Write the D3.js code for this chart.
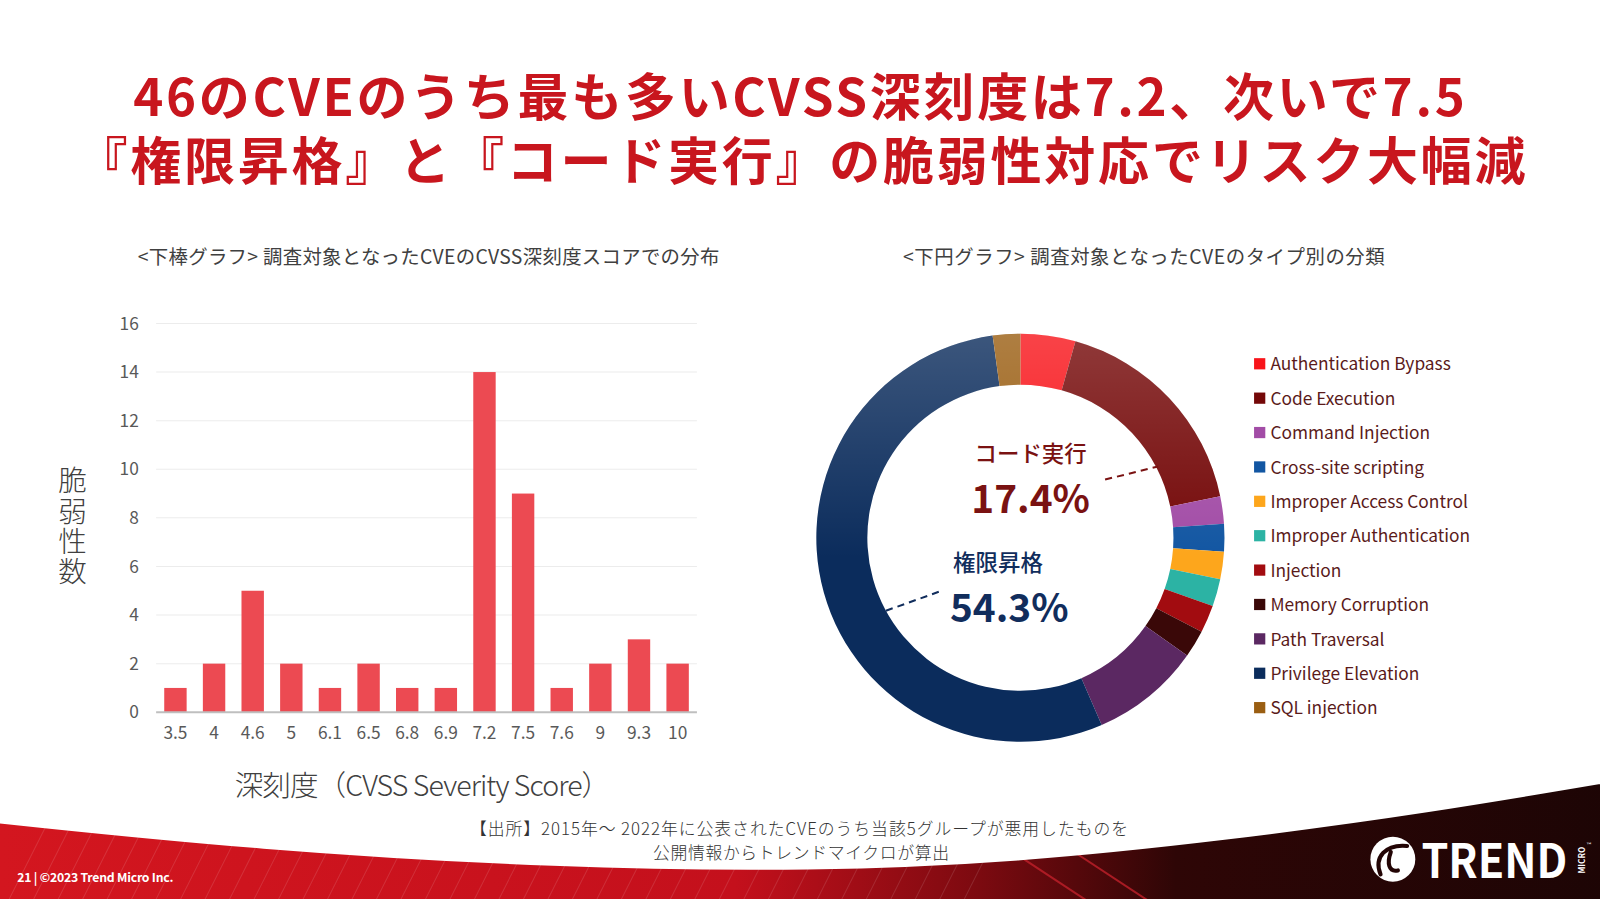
<!DOCTYPE html>
<html>
<head>
<meta charset="utf-8">
<script src="https://cdnjs.cloudflare.com/ajax/libs/d3/7.8.5/d3.min.js"></script>
<style>
body { margin: 0; background: #fff; }
svg { display: block; }
text { font-family: "Noto Sans CJK JP", "Noto Sans", sans-serif; }
</style>
</head>
<body>
<script>

// bar chart data (CVSS score -> number of CVEs)
var scores = ["3.5","4","4.6","5","6.1","6.5","6.8","6.9","7.2","7.5","7.6","9","9.3","10"];
var counts = [1,2,5,2,1,2,1,1,14,9,1,2,3,2];
var yTicks = [0,2,4,6,8,10,12,14,16];

// donut data (CVE type -> number of CVEs)
var types = ["Authentication Bypass","Code Execution","Command Injection","Cross-site scripting",
			 "Improper Access Control","Improper Authentication","Injection","Memory Corruption",
			 "Path Traversal","Privilege Elevation","SQL injection"];
var typeCounts = [2,8,1,1,1,1,1,1,4,25,1];
var typeColors = ["#f8141a","#740808","#a24ca6","#1256a2","#fda61c","#2cb3a4",
				  "#a20c10","#3a0808","#5b2862","#0b2c5c","#9a5e12"];

var title1 = "46のCVEのうち最も多いCVSS深刻度は7.2、次いで7.5";
var title2 = "『権限昇格』と『コード実行』の脆弱性対応でリスク大幅減";

var svg = d3.select("body")
			.append("svg")
			.attr("width", 1600)
			.attr("height", 899);

var defs = svg.append("defs");

// layout below was measured on a 1568 px wide copy of the slide
var page = svg.append("g").attr("transform", "scale(1.0204)");

function drawFooter(){

	// swoosh background at the bottom
	var grad = defs.append("linearGradient")
				   .attr("id", "footGrad")
				   .attr("x1", "0").attr("x2", "1").attr("y1", "0").attr("y2", "0");
	[[0, "#d3161f"], [0.45, "#c4101c"], [0.6, "#7c0a10"], [0.72, "#2e0606"], [1, "#1c0505"]]
		.forEach(function(s){
			grad.append("stop").attr("offset", s[0]).attr("stop-color", s[1]);
		});

	var edge = [[0,806],[250,832],[550,850],[800,853],[1000,844],[1200,823],[1400,796],[1600,762]];
	var curve = d3.line().curve(d3.curveBasis);
	var d = curve(edge) + "L1600,899L0,899Z";

	page.append("path")
		.attr("d", d)
		.attr("fill", "url(#footGrad)");

	defs.append("clipPath").attr("id", "footClip")
		.append("path").attr("d", d);

	// faint diagonal texture lines
	var tex = page.append("g").attr("clip-path", "url(#footClip)");
	for (var i = 0; i < 40; i++){
		tex.append("line")
		   .attr("x1", i * 24).attr("y1", 899)
		   .attr("x2", i * 24 + 60).attr("y2", 780)
		   .attr("stroke", "#ffffff")
		   .attr("stroke-opacity", 0.12)
		   .attr("stroke-width", 1);
	}
	[[1050,1000],[1110,1060]].forEach(function(p){
		tex.append("line")
		   .attr("x1", p[0] + 40).attr("y1", 899)
		   .attr("x2", p[1] - 30).attr("y2", 820)
		   .attr("stroke", "#c0202a").attr("stroke-width", 2).attr("stroke-opacity", 0.8);
	});

	page.append("path")
		.attr("d", curve(edge))
		.attr("fill", "none")
		.attr("stroke", "#ffffff")
		.attr("stroke-width", 2);

	page.append("text")
		.attr("x", 17).attr("y", 864)
		.attr("fill", "#ffffff")
		.attr("font-size", 12)
		.attr("font-weight", 700)
		.attr("textLength", 153)
		.text("21 | ©2023 Trend Micro Inc.");

	// logo
	page.append("circle")
		.attr("cx", 1365).attr("cy", 842).attr("r", 22)
		.attr("fill", "#ffffff");
	page.append("path")
		.attr("d", "M1353,857 C1346,840 1358,827 1379,829 M1363,835 C1359,846 1361,855 1370,853")
		.attr("fill", "none")
		.attr("stroke", "#230505")
		.attr("stroke-width", 4)
		.attr("stroke-linecap", "round");
	page.append("text")
		.attr("x", 1393).attr("y", 860)
		.attr("fill", "#ffffff")
		.attr("font-family", "Roboto, sans-serif")
		.attr("font-size", 46)
		.attr("font-weight", 700)
		.attr("textLength", 143)
		.attr("lengthAdjust", "spacingAndGlyphs")
		.text("TREND");
	page.append("text")
		.attr("transform", "translate(1553,843) rotate(-90)")
		.attr("text-anchor", "middle")
		.attr("fill", "#ffffff")
		.attr("font-family", "Roboto, sans-serif")
		.attr("font-size", 8)
		.attr("font-weight", 700)
		.text("MICRO");
	page.append("text")
		.attr("x", 1555).attr("y", 830)
		.attr("fill", "#ffffff")
		.attr("font-size", 6)
		.text("™");
}

function drawTitles(){

	page.append("text")
		.attr("x", 783).attr("y", 114)
		.attr("text-anchor", "middle")
		.attr("fill", "#c8161e")
		.attr("font-size", 50)
		.attr("font-weight", 700)
		.attr("textLength", 1305)
		.text(title1);

	page.append("text")
		.attr("x", 785).attr("y", 176)
		.attr("text-anchor", "middle")
		.attr("fill", "#c8161e")
		.attr("font-size", 50)
		.attr("font-weight", 700)
		.attr("textLength", 1420)
		.text(title2);

	page.append("text")
		.attr("x", 420).attr("y", 259)
		.attr("text-anchor", "middle")
		.attr("fill", "#404040")
		.attr("font-size", 19)
		.attr("textLength", 570)
		.text("<下棒グラフ> 調査対象となったCVEのCVSS深刻度スコアでの分布");

	page.append("text")
		.attr("x", 1121).attr("y", 259)
		.attr("text-anchor", "middle")
		.attr("fill", "#404040")
		.attr("font-size", 19)
		.attr("textLength", 472)
		.text("<下円グラフ> 調査対象となったCVEのタイプ別の分類");

	// source note
	page.append("text")
		.attr("x", 783).attr("y", 818)
		.attr("text-anchor", "middle")
		.attr("fill", "#333333")
		.attr("font-size", 16.5)
		.attr("font-weight", 300)
		.attr("textLength", 645)
		.text("【出所】2015年～ 2022年に公表されたCVEのうち当該5グループが悪用したものを");
	page.append("text")
		.attr("x", 785).attr("y", 842)
		.attr("text-anchor", "middle")
		.attr("fill", "#333333")
		.attr("font-size", 16.5)
		.attr("font-weight", 300)
		.attr("textLength", 290)
		.text("公開情報からトレンドマイクロが算出");
}

function createBarchart(){

	var xScale = d3.scaleBand()
				   .domain(scores)
				   .range([153, 683])
				   .paddingInner(0.42)
				   .paddingOuter(0.21);

	var yScale = d3.scaleLinear()
				   .domain([0, 16])
				   .range([698, 317]);

	// gridlines
	page.append("g")
		.selectAll("line")
		.data(yTicks.slice(1))
		.enter()
		.append("line")
		.attr("x1", 153).attr("x2", 683)
		.attr("y1", function(d){ return yScale(d); })
		.attr("y2", function(d){ return yScale(d); })
		.attr("stroke", "#ececec")
		.attr("stroke-width", 1);

	// bars
	page.append("g")
		.selectAll("rect")
		.data(counts)
		.enter()
		.append("rect")
		.attr("x", function(d, i){ return xScale(scores[i]); })
		.attr("y", function(d){ return yScale(d); })
		.attr("width", xScale.bandwidth())
		.attr("height", function(d){ return yScale(0) - yScale(d); })
		.attr("fill", "#ec4a52");

	// baseline
	page.append("line")
		.attr("x1", 153).attr("x2", 683)
		.attr("y1", yScale(0)).attr("y2", yScale(0))
		.attr("stroke", "#bfbfbf")
		.attr("stroke-width", 2);

	// Y axis
	var yAxis = page.append("g")
					.attr("transform", "translate(153,0)")
					.call(d3.axisLeft(yScale).tickValues(yTicks).tickSize(0).tickPadding(17));

	// X axis
	var xAxis = page.append("g")
					.attr("transform", "translate(0," + yScale(0) + ")")
					.call(d3.axisBottom(xScale).tickSize(0).tickPadding(14));

	[yAxis, xAxis].forEach(function(a){
		a.select(".domain").remove();
		a.selectAll("text")
		 .attr("fill", "#595959")
		 .attr("font-size", 17)
		 .attr("font-family", "\"Noto Sans\", sans-serif");
	});

	// axis titles (Y title written top to bottom)
	page.append("text")
		.attr("x", 71).attr("y", 457)
		.attr("fill", "#404040")
		.attr("font-size", 28)
		.attr("font-weight", 300)
		.attr("letter-spacing", 1.5)
		.style("writing-mode", "vertical-rl")
		.style("text-orientation", "upright")
		.text("脆弱性数");

	page.append("text")
		.attr("x", 414).attr("y", 780)
		.attr("text-anchor", "middle")
		.attr("fill", "#404040")
		.attr("font-size", 28)
		.attr("font-weight", 300)
		.attr("textLength", 368)
		.text("深刻度（CVSS Severity Score）");
}

function createDonut(){

	var cx = 1000, cy = 527, rOut = 200, rIn = 150;
	var total = d3.sum(typeCounts);

	var pie = d3.pie().sort(null).value(function(d){ return d; });
	var arc = d3.arc().innerRadius(rIn).outerRadius(rOut);
	var arcs = pie(typeCounts);

	var g = page.append("g").attr("transform", "translate(" + cx + "," + cy + ")");

	g.selectAll("path")
	 .data(arcs)
	 .enter()
	 .append("path")
	 .attr("d", arc)
	 .attr("fill", function(d, i){ return typeColors[i]; });

	// light sheen at the top of the ring
	var sheen = defs.append("linearGradient")
					.attr("id", "sheen")
					.attr("x1", "0").attr("x2", "0").attr("y1", "0").attr("y2", "1");
	sheen.append("stop").attr("offset", 0).attr("stop-color", "#ffffff").attr("stop-opacity", 0.2);
	sheen.append("stop").attr("offset", 0.55).attr("stop-color", "#ffffff").attr("stop-opacity", 0);

	g.append("path")
	 .attr("d", d3.arc().innerRadius(rIn).outerRadius(rOut).startAngle(0).endAngle(2 * Math.PI)())
	 .attr("fill", "url(#sheen)");

	// point on a slice, f = fraction along the slice
	function pointAt(a, f, r){
		var ang = a.startAngle + f * (a.endAngle - a.startAngle);
		return [Math.sin(ang) * r, -Math.cos(ang) * r];
	}

	// callouts
	var notes = [
		{idx: 1, label: "コード実行", color: "#7a1212", x: 10, px: 10, y: -74, f: 0.75, from: [83, -57]},
		{idx: 9, label: "権限昇格", color: "#112d5c", x: -22, px: -11, y: 33, f: 0.435, from: [-80, 53]}
	];

	notes.forEach(function(n){
		var pct = (typeCounts[n.idx] / total * 100).toFixed(1) + "%";
		var end = pointAt(arcs[n.idx], n.f, rIn + 2);

		g.append("line")
		 .attr("x1", n.from[0]).attr("y1", n.from[1])
		 .attr("x2", end[0]).attr("y2", end[1])
		 .attr("stroke", n.color)
		 .attr("stroke-width", 2)
		 .attr("stroke-dasharray", "7,5");

		g.append("text")
		 .attr("x", n.x).attr("y", n.y)
		 .attr("text-anchor", "middle")
		 .attr("fill", n.color)
		 .attr("font-size", 22)
		 .attr("font-weight", 500)
		 .text(n.label);

		g.append("text")
		 .attr("x", n.px).attr("y", n.y + 50)
		 .attr("text-anchor", "middle")
		 .attr("fill", n.color)
		 .attr("font-family", "\"Open Sans\", sans-serif")
		 .attr("font-size", 38)
		 .attr("font-weight", 700)
		 .text(pct);
	});

	// legend
	var legend = page.append("g")
					 .selectAll("g")
					 .data(types)
					 .enter()
					 .append("g")
					 .attr("transform", function(d, i){ return "translate(1229," + (357 + i * 33.7) + ")"; });

	legend.append("rect")
		  .attr("x", 0).attr("y", -6)
		  .attr("width", 11).attr("height", 11)
		  .attr("fill", function(d, i){ return typeColors[i]; });

	legend.append("text")
		  .attr("x", 16).attr("y", 6)
		  .attr("fill", "#5a1a1a")
		  .attr("font-family", "Lato, sans-serif")
		  .attr("font-size", 17)
		  .text(function(d){ return d; });
}

drawFooter();
drawTitles();
createBarchart();
createDonut();

</script>
</body>
</html>
